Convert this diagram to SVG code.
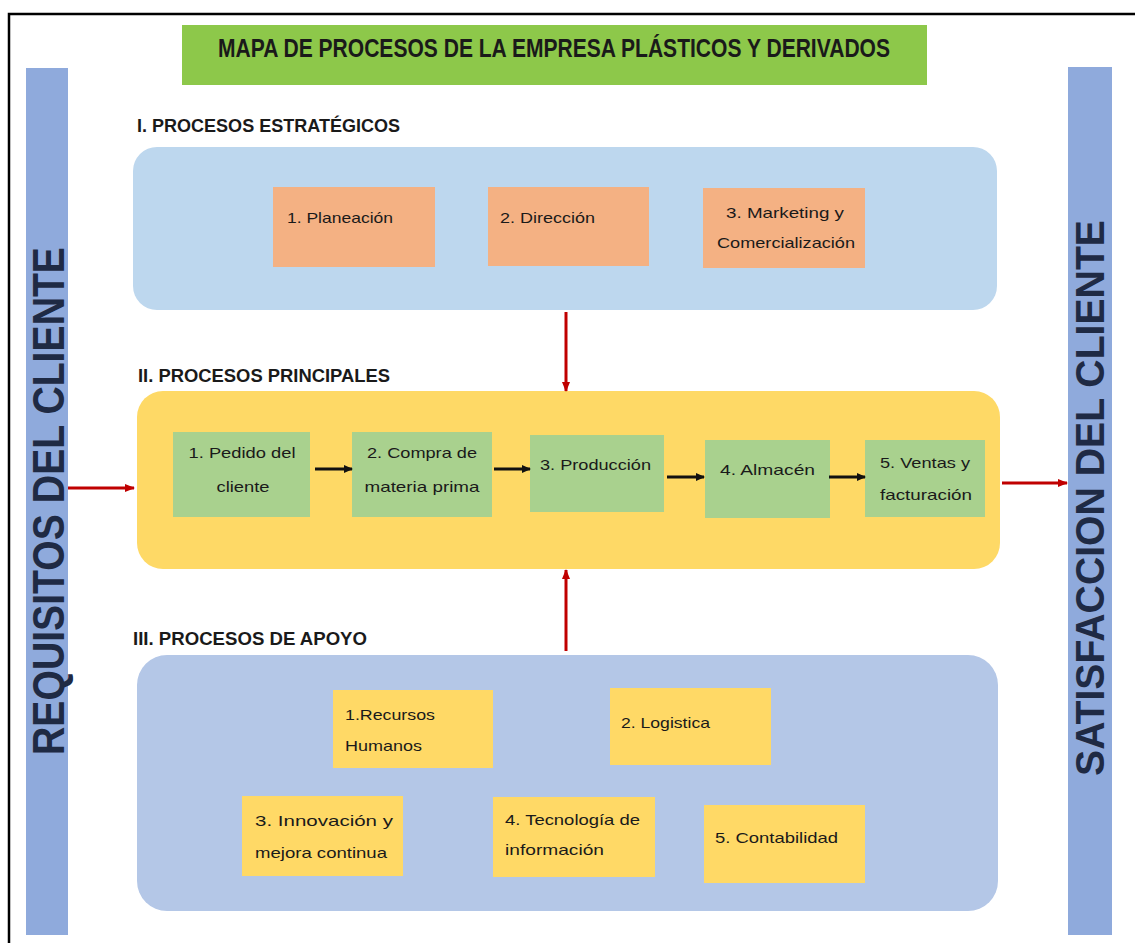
<svg xmlns="http://www.w3.org/2000/svg" width="1135" height="943" viewBox="0 0 1135 943">
  <defs>
    <style>
      .frame { fill: none; stroke: #000; stroke-width: 2.5; }
      .bar { fill: #8FAADC; }
      .bartxt { font-family: "Liberation Sans", Arial, sans-serif; font-weight: bold; fill: #1F2A44; }
      .title-box { fill: #8DC84A; }
      .title { font-family: "Liberation Sans", Arial, sans-serif; font-weight: bold; font-size: 25px; fill: #1a1a1a; }
      .head { font-family: "Liberation Sans", Arial, sans-serif; font-weight: bold; font-size: 19px; fill: #1a1a1a; }
      .zone-strat { fill: #BDD7EE; }
      .zone-main { fill: #FED966; }
      .zone-sup { fill: #B4C7E7; }
      .box-or { fill: #F4B183; }
      .box-gr { fill: #A9D18E; }
      .box-ye { fill: #FFD966; }
      .lbl { font-family: "Liberation Sans", Arial, sans-serif; font-size: 15px; fill: #1a1a1a; }
      .c { text-anchor: middle; }
      .red { stroke: #C00000; stroke-width: 3; fill: none; }
      .blk { stroke: #111; stroke-width: 3.2; fill: none; }
    </style>
    <marker id="ahRed" markerWidth="10" markerHeight="8" refX="9" refY="4" orient="auto" markerUnits="userSpaceOnUse">
      <path d="M0,0 L10,4 L0,8 Z" fill="#C00000"/>
    </marker>
    <marker id="ahBlk" markerWidth="9" markerHeight="8" refX="8" refY="4" orient="auto" markerUnits="userSpaceOnUse">
      <path d="M0,0 L9,4 L0,8 Z" fill="#111"/>
    </marker>
  </defs>

  <rect width="1135" height="943" fill="#fff"/>
  <!-- page frame (runs off the right and bottom edges) -->
  <rect class="frame" x="9" y="14" width="1140" height="945"/>

  <!-- title -->
  <g id="title">
    <rect class="title-box" x="182" y="25" width="745" height="60"/>
    <text class="title" x="218" y="57" textLength="672" lengthAdjust="spacingAndGlyphs">MAPA DE PROCESOS DE LA EMPRESA PLÁSTICOS Y DERIVADOS</text>
  </g>

  <!-- side bars -->
  <g id="requisitos">
    <rect class="bar" x="26" y="68" width="42" height="867"/>
    <text class="bartxt" font-size="44" transform="translate(64,501) rotate(-90)" text-anchor="middle" textLength="508" lengthAdjust="spacingAndGlyphs">REQUISITOS DEL CLIENTE</text>
  </g>
  <g id="satisfaccion">
    <rect class="bar" x="1068" y="67" width="44" height="868"/>
    <text class="bartxt" font-size="40" transform="translate(1104,498) rotate(-90)" text-anchor="middle" textLength="556" lengthAdjust="spacingAndGlyphs">SATISFACCION DEL CLIENTE</text>
  </g>

  <!-- I. strategic processes -->
  <g id="estrategicos">
    <text class="head" x="137" y="132" textLength="263" lengthAdjust="spacingAndGlyphs">I. PROCESOS ESTRATÉGICOS</text>
    <rect class="zone-strat" x="133" y="147" width="864" height="163" rx="24"/>
  </g>
  <g id="planeacion">
    <rect class="box-or" x="273" y="187" width="162" height="80"/>
    <text class="lbl" x="287" y="223" textLength="106" lengthAdjust="spacingAndGlyphs">1. Planeación</text>
  </g>
  <g id="direccion">
    <rect class="box-or" x="488" y="187" width="161" height="79"/>
    <text class="lbl" x="500" y="223" textLength="95" lengthAdjust="spacingAndGlyphs">2. Dirección</text>
  </g>
  <g id="marketing">
    <rect class="box-or" x="703" y="188" width="162" height="80"/>
    <text class="lbl c" x="785" y="218" textLength="118" lengthAdjust="spacingAndGlyphs">3. Marketing y</text>
    <text class="lbl c" x="786" y="248" textLength="138" lengthAdjust="spacingAndGlyphs">Comercialización</text>
  </g>

  <!-- II. main processes -->
  <g id="principales">
    <text class="head" x="138" y="382" textLength="252" lengthAdjust="spacingAndGlyphs">II. PROCESOS PRINCIPALES</text>
    <rect class="zone-main" x="137" y="391" width="863" height="178" rx="26"/>
  </g>
  <g id="pedido">
    <rect class="box-gr" x="173" y="432" width="137" height="85"/>
    <text class="lbl c" x="242" y="458" textLength="107" lengthAdjust="spacingAndGlyphs">1. Pedido del</text>
    <text class="lbl c" x="243" y="492" textLength="53" lengthAdjust="spacingAndGlyphs">cliente</text>
  </g>
  <g id="compra">
    <rect class="box-gr" x="352" y="432" width="140" height="85"/>
    <text class="lbl c" x="422" y="458" textLength="110" lengthAdjust="spacingAndGlyphs">2. Compra de</text>
    <text class="lbl c" x="422" y="492" textLength="115" lengthAdjust="spacingAndGlyphs">materia prima</text>
  </g>
  <g id="produccion">
    <rect class="box-gr" x="530" y="435" width="134" height="77"/>
    <text class="lbl" x="540" y="470" textLength="111" lengthAdjust="spacingAndGlyphs">3. Producción</text>
  </g>
  <g id="almacen">
    <rect class="box-gr" x="705" y="440" width="125" height="78"/>
    <text class="lbl" x="720" y="475" textLength="95" lengthAdjust="spacingAndGlyphs">4.  Almacén</text>
  </g>
  <g id="ventas">
    <rect class="box-gr" x="865" y="440" width="120" height="77"/>
    <text class="lbl c" x="925" y="468" textLength="90" lengthAdjust="spacingAndGlyphs">5. Ventas y</text>
    <text class="lbl c" x="926" y="500" textLength="92" lengthAdjust="spacingAndGlyphs">facturación</text>
  </g>

  <!-- III. support processes -->
  <g id="apoyo">
    <text class="head" x="133" y="645" textLength="234" lengthAdjust="spacingAndGlyphs">III. PROCESOS DE APOYO</text>
    <rect class="zone-sup" x="137" y="655" width="861" height="256" rx="30"/>
  </g>
  <g id="recursos">
    <rect class="box-ye" x="333" y="690" width="160" height="78"/>
    <text class="lbl" x="345" y="720" textLength="90" lengthAdjust="spacingAndGlyphs">1.Recursos</text>
    <text class="lbl" x="345" y="751" textLength="77" lengthAdjust="spacingAndGlyphs">Humanos</text>
  </g>
  <g id="logistica">
    <rect class="box-ye" x="610" y="688" width="161" height="77"/>
    <text class="lbl" x="621" y="728" textLength="89" lengthAdjust="spacingAndGlyphs">2. Logistica</text>
  </g>
  <g id="innovacion">
    <rect class="box-ye" x="242" y="796" width="161" height="80"/>
    <text class="lbl" x="255" y="826" textLength="138" lengthAdjust="spacingAndGlyphs">3.  Innovación  y</text>
    <text class="lbl" x="255" y="858" textLength="132" lengthAdjust="spacingAndGlyphs">mejora continua</text>
  </g>
  <g id="tecnologia">
    <rect class="box-ye" x="493" y="797" width="162" height="80"/>
    <text class="lbl" x="505" y="825" textLength="135" lengthAdjust="spacingAndGlyphs">4. Tecnología de</text>
    <text class="lbl" x="505" y="855" textLength="99" lengthAdjust="spacingAndGlyphs">información</text>
  </g>
  <g id="contabilidad">
    <rect class="box-ye" x="704" y="805" width="161" height="78"/>
    <text class="lbl" x="715" y="843" textLength="123" lengthAdjust="spacingAndGlyphs">5. Contabilidad</text>
  </g>

  <!-- connectors -->
  <g id="connectors">
    <line class="red" x1="68" y1="488" x2="134" y2="488" marker-end="url(#ahRed)"/>
    <line class="red" x1="1002" y1="483" x2="1067" y2="483" marker-end="url(#ahRed)"/>
    <line class="red" x1="566" y1="312" x2="566" y2="391" marker-end="url(#ahRed)"/>
    <line class="red" x1="566" y1="651" x2="566" y2="570" marker-end="url(#ahRed)"/>
    <line class="blk" x1="315" y1="469" x2="352" y2="469" marker-end="url(#ahBlk)"/>
    <line class="blk" x1="494" y1="469" x2="530" y2="469" marker-end="url(#ahBlk)"/>
    <line class="blk" x1="667" y1="477" x2="704" y2="477" marker-end="url(#ahBlk)"/>
    <line class="blk" x1="829" y1="477" x2="865" y2="477" marker-end="url(#ahBlk)"/>
  </g>
</svg>
